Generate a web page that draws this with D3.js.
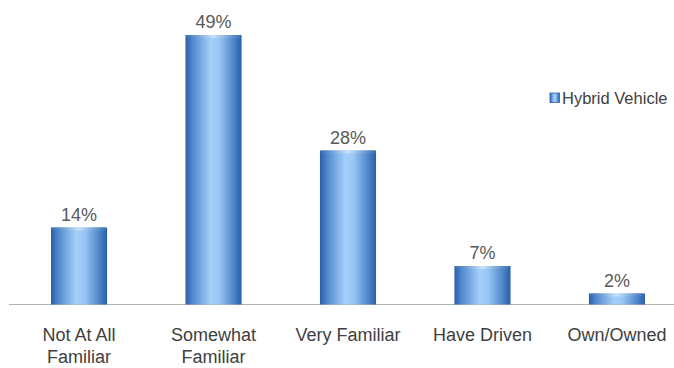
<!DOCTYPE html>
<html>
<head>
<meta charset="utf-8">
<script src="https://cdn.jsdelivr.net/npm/d3@7"></script>
<style>
  body { margin: 0; background: #fff; }
  text { font-family: "Liberation Sans", Arial, sans-serif; }
</style>
</head>
<body>
<svg id="chart" width="674" height="368"></svg>
<script>
// chart data
let categories = ["Not At All|Familiar", "Somewhat|Familiar", "Very Familiar", "Have Driven", "Own/Owned"];
let values = [14, 49, 28, 7, 2];
let seriesName = "Hybrid Vehicle";

let svg = d3.select("#chart");
let baseY = 304.5;

let x = d3.scaleBand()
          .domain(categories)
          .range([12, 684])
          .paddingInner(0.583)
          .paddingOuter(0.29);

let y = d3.scaleLinear()
          .domain([0, 49])
          .range([baseY, 35]);

let defs = svg.append("defs");
let grad = defs.append("linearGradient")
               .attr("id", "barGrad")
               .attr("x1", "0%").attr("x2", "100%")
               .attr("y1", "0%").attr("y2", "0%");
grad.append("stop").attr("offset", "0%").attr("stop-color", "#2a5ea8");
grad.append("stop").attr("offset", "12%").attr("stop-color", "#4f86cc");
grad.append("stop").attr("offset", "45%").attr("stop-color", "#a4d0fa");
grad.append("stop").attr("offset", "60%").attr("stop-color", "#98c6f4");
grad.append("stop").attr("offset", "88%").attr("stop-color", "#4a80c6");
grad.append("stop").attr("offset", "100%").attr("stop-color", "#2a5ea8");

let topGrad = defs.append("linearGradient")
                  .attr("id", "topGrad")
                  .attr("x1", "0%").attr("x2", "100%");
topGrad.append("stop").attr("offset", "0%").attr("stop-color", "#3a6fb8");
topGrad.append("stop").attr("offset", "50%").attr("stop-color", "#c8e4ff");
topGrad.append("stop").attr("offset", "100%").attr("stop-color", "#3a6fb8");

// axis line
svg.append("line")
   .attr("x1", 9).attr("x2", 674)
   .attr("y1", baseY).attr("y2", baseY)
   .attr("stroke", "#b3b3b3")
   .attr("stroke-width", 1.2);

let bars = svg.selectAll(".bar")
              .data(values)
              .enter().append("g")
              .attr("class", "bar");

bars.append("rect")
    .attr("x", (d, i) => x(categories[i]))
    .attr("y", d => y(d))
    .attr("width", x.bandwidth())
    .attr("height", d => baseY - y(d))
    .attr("fill", "url(#barGrad)");

// top rim highlight
bars.append("rect")
    .attr("x", (d, i) => x(categories[i]) + 1)
    .attr("y", d => y(d))
    .attr("width", x.bandwidth() - 2)
    .attr("height", 3)
    .attr("rx", 1.5)
    .attr("fill", "url(#topGrad)");

// value labels
bars.append("text")
    .attr("x", (d, i) => x(categories[i]) + x.bandwidth() / 2)
    .attr("y", d => y(d) - 7)
    .attr("text-anchor", "middle")
    .attr("font-size", "18px")
    .attr("fill", "#595959")
    .text(d => d + "%");

// category labels
let catLabels = svg.selectAll(".cat")
                   .data(categories)
                   .enter().append("text")
                   .attr("class", "cat")
                   .attr("text-anchor", "middle")
                   .attr("font-size", "18px")
                   .attr("fill", "#404040")
                   .attr("x", d => x(d) + x.bandwidth() / 2)
                   .attr("y", 341);
catLabels.each(function(d) {
  let lines = d.split("|");
  let t = d3.select(this);
  lines.forEach(function(l, k) {
    t.append("tspan")
     .attr("x", x(d) + x.bandwidth() / 2)
     .attr("dy", k === 0 ? 0 : 21.5)
     .text(l);
  });
});

// legend
let legend = svg.append("g").attr("transform", "translate(550,93)");
legend.append("rect")
      .attr("width", 9.5).attr("height", 9.5)
      .attr("fill", "url(#barGrad)")
      .attr("stroke", "#2a5ea8")
      .attr("stroke-width", 0.8);
legend.append("text")
      .attr("x", 12).attr("y", 11)
      .attr("font-size", "16.5px")
      .attr("fill", "#404040")
      .text(seriesName);
</script>
</body>
</html>
